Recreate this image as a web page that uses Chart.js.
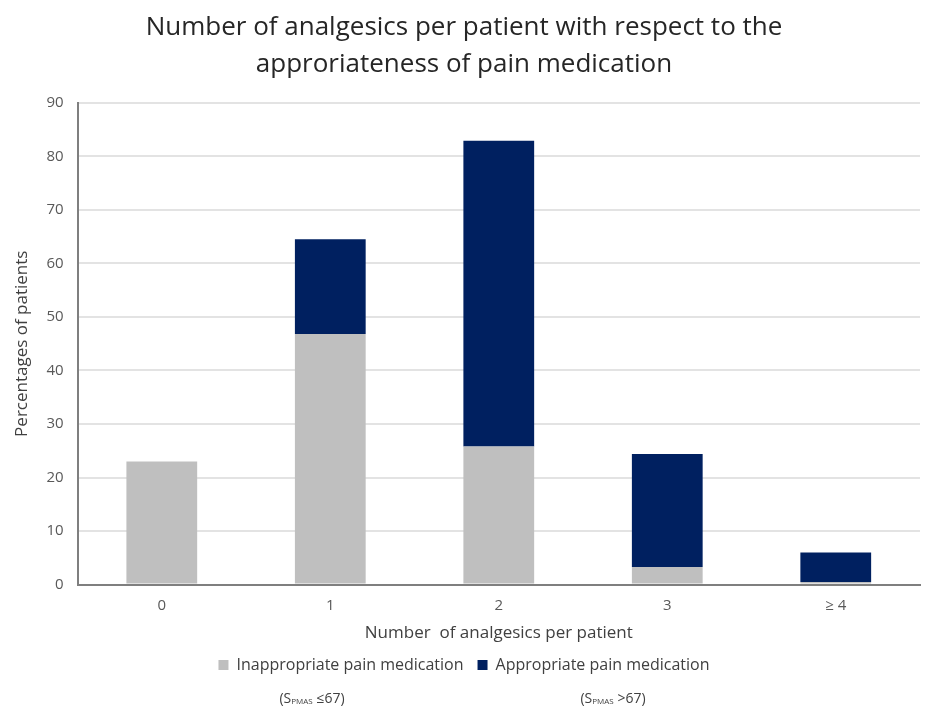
<!DOCTYPE html>
<html>
<head>
<meta charset="utf-8">
<script src="https://cdn.jsdelivr.net/npm/chart.js@4"></script>
<style>
  html, body { margin: 0; padding: 0; background: #fff; }
  #wrap { position: relative; width: 926px; height: 711px; }
  .sub { position: absolute; top: 688px; font: 14px "Open Sans", sans-serif; color: #404040; transform: translateX(-50%); white-space: nowrap; }
  .sub sub { font-size: 8px; vertical-align: -1px; }
</style>
</head>
<body>
<div id="wrap">
  <canvas id="chart" width="926" height="711"></canvas>
  <div class="sub" style="left:312px">(S<sub>PMAS</sub> ≤67)</div>
  <div class="sub" style="left:613px">(S<sub>PMAS</sub> &gt;67)</div>
</div>
<script>
const categories = ['0', '1', '2', '3', '≥ 4'];
const inappropriate = [23, 46.8, 25.8, 3.3, 0.5];
const appropriate = [0, 17.7, 57.1, 21.1, 5.5];
const yTicks = [0, 10, 20, 30, 40, 50, 60, 70, 80, 90];

const font = '"Open Sans", sans-serif';

new Chart(document.getElementById('chart'), {
  type: 'bar',
  data: {
    labels: categories,
    datasets: [
      { label: 'Inappropriate pain medication', data: inappropriate, backgroundColor: '#bfbfbf', barPercentage: 0.84, categoryPercentage: 0.5 },
      { label: 'Appropriate pain medication', data: appropriate, backgroundColor: '#002060', barPercentage: 0.84, categoryPercentage: 0.5 }
    ]
  },
  options: {
    responsive: false,
    animation: false,
    layout: { padding: { left: 8, right: 6, top: 5, bottom: 28 } },
    plugins: {
      title: {
        display: true,
        text: ['Number of analgesics per patient with respect to the', 'approriateness of pain medication'],
        font: { family: font, size: 26, weight: 'normal', lineHeight: 1.42 },
        color: '#262626',
        padding: { top: 4, bottom: 20 }
      },
      legend: {
        position: 'bottom',
        labels: {
          font: { family: font, size: 16 },
          color: '#404040',
          boxWidth: 10,
          boxHeight: 10,
          padding: 14
        }
      },
      tooltip: { enabled: false }
    },
    scales: {
      x: {
        stacked: true,
        grid: { display: false },
        border: { color: '#7f7f7f', width: 2 },
        ticks: { font: { family: font, size: 15 }, color: '#595959', padding: 4 },
        title: { display: true, text: 'Number  of analgesics per patient', font: { family: font, size: 17 }, color: '#404040', padding: { top: 4, bottom: 0 } }
      },
      y: {
        stacked: true,
        min: 0,
        max: 90,
        afterBuildTicks: (axis) => { axis.ticks = yTicks.map(v => ({ value: v })); },
        grid: { color: '#e3e3e3', lineWidth: 2, drawTicks: false },
        border: { color: '#7f7f7f', width: 2 },
        ticks: { font: { family: font, size: 15 }, color: '#595959', padding: 14 },
        title: { display: true, text: 'Percentages of patients', font: { family: font, size: 17 }, color: '#404040', padding: { bottom: 0 } }
      }
    }
  }
});
</script>
</body>
</html>
